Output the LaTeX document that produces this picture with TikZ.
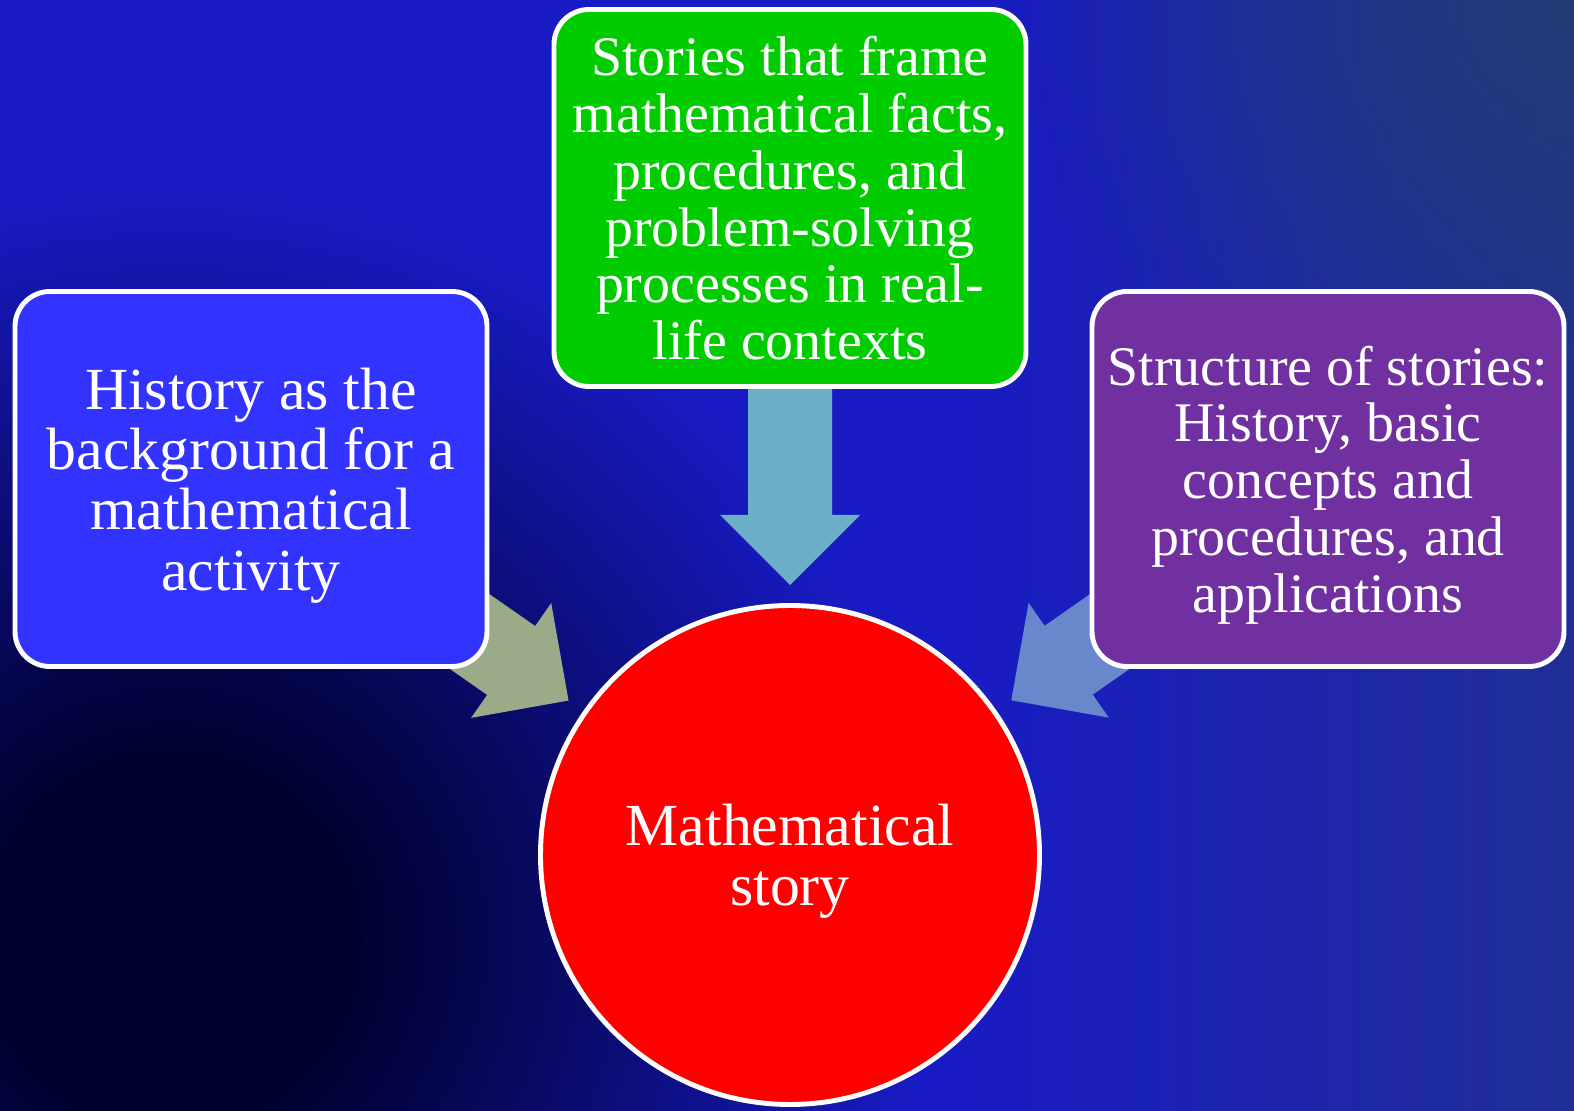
\documentclass[tikz,border=0pt]{standalone}
\usepackage{fontspec}
\setmainfont{Liberation Serif}
\usetikzlibrary{calc, positioning, fadings}

\definecolor{bgblue}{RGB}{24,27,196}
\definecolor{bgdark}{RGB}{0,0,46}
\definecolor{bgedge}{RGB}{32,46,150}
\definecolor{bggrey}{RGB}{36,60,118}
\definecolor{histblue}{RGB}{51,51,255}
\definecolor{framegreen}{RGB}{0,204,0}
\definecolor{structpurple}{RGB}{112,48,160}
\definecolor{storyred}{RGB}{255,0,0}
\definecolor{arrowsage}{RGB}{155,170,135}
\definecolor{arrowsky}{RGB}{108,175,200}
\definecolor{arrowlav}{RGB}{105,136,204}

\tikzfading[name=glow, inner color=transparent!0, outer color=transparent!100]
\pgfdeclareradialshading{navyglow}{\pgfpoint{0bp}{0bp}}{%
    color(0bp)=(bgdark); color(6bp)=(bgdark);
    color(25bp)=(bgblue); color(50bp)=(bgblue)}

\pgfdeclarelayer{background}
\pgfdeclarelayer{arrows}
\pgfsetlayers{background,arrows,main}

\newcommand{\Flow}[2]{%
    % #1 : name of the box the arrow starts in
    % #2 : fill colour
    \def\sw{4.2mm} % Half width of the shaft
    \def\hw{7mm} % Half width of the head
    \coordinate (#1-tip) at ($(story.center)!2.7cm!(#1.center)$);
    \coordinate (#1-base) at ($(#1-tip)!7mm!(#1.center)$);
    \fill[#2]
    ($(#1.center)!\sw!90:(#1-tip)$) --
    ($(#1-base)!\sw!90:(#1-tip)$) --
    ($(#1-base)!\hw!90:(#1-tip)$) --
    (#1-tip) --
    ($(#1-base)!\hw!-90:(#1-tip)$) --
    ($(#1-base)!\sw!-90:(#1-tip)$) --
    ($(#1.center)!\sw!-90:(#1-tip)$) -- cycle;
}

\begin{document}
\begin{tikzpicture}[
        x=0.1mm,
        y=-0.1mm,
        card/.style={
            draw=white,
            line width=1.4pt,
            rounded corners=3.5mm,
            minimum width=47.2mm,
            minimum height=37.5mm,
            align=center,
            text=white,
            text depth=0pt,
            inner sep=0pt,
        },
        bigtext/.style={font=\fontsize{17}{17.2}\selectfont},
        smalltext/.style={font=\fontsize{15.9}{16.15}\selectfont},
    ]

    \useasboundingbox (0,0) rectangle (1574,1111);

    % Boxes and the circle
    \node[card, bigtext, fill=histblue] (hist) at (251,479)
        {History as the\\background for a\\mathematical\\activity};
    \node[card, smalltext, fill=framegreen, minimum height=37.7mm] (frame) at (790,198)
        {Stories that frame\\mathematical facts,\\procedures, and\\problem-solving\\processes in real-\\life contexts};
    \node[card, smalltext, fill=structpurple] (struct) at (1328,479)
        {Structure of stories:\\History, basic\\concepts and\\procedures, and\\applications};
    \node[circle, draw=white, line width=1.4pt, fill=storyred, minimum size=49.9mm,
        text=white, align=center, text depth=0pt, bigtext, inner sep=0pt] (story) at (790,855)
        {Mathematical\\story};

    % Block arrows, under the boxes
    \begin{pgfonlayer}{arrows}
        \Flow{hist}{arrowsage}
        \Flow{frame}{arrowsky}
        \Flow{struct}{arrowlav}
    \end{pgfonlayer}

    % Backdrop
    \begin{pgfonlayer}{background}
        \fill[bgblue] (0,0) rectangle (1574,1111);
        \begin{scope}
            \clip (0,0) rectangle (1574,1111);
            \shade[left color=bgblue, right color=bgedge]
            (950,0) rectangle (1574,1111);
            \fill[bggrey, path fading=glow]
            (1574-550,-550) rectangle (1574+550,550);
            \shade[shading=navyglow]
            (170-760,940-760) rectangle (170+760,940+760);
        \end{scope}
    \end{pgfonlayer}

\end{tikzpicture}
\end{document}
